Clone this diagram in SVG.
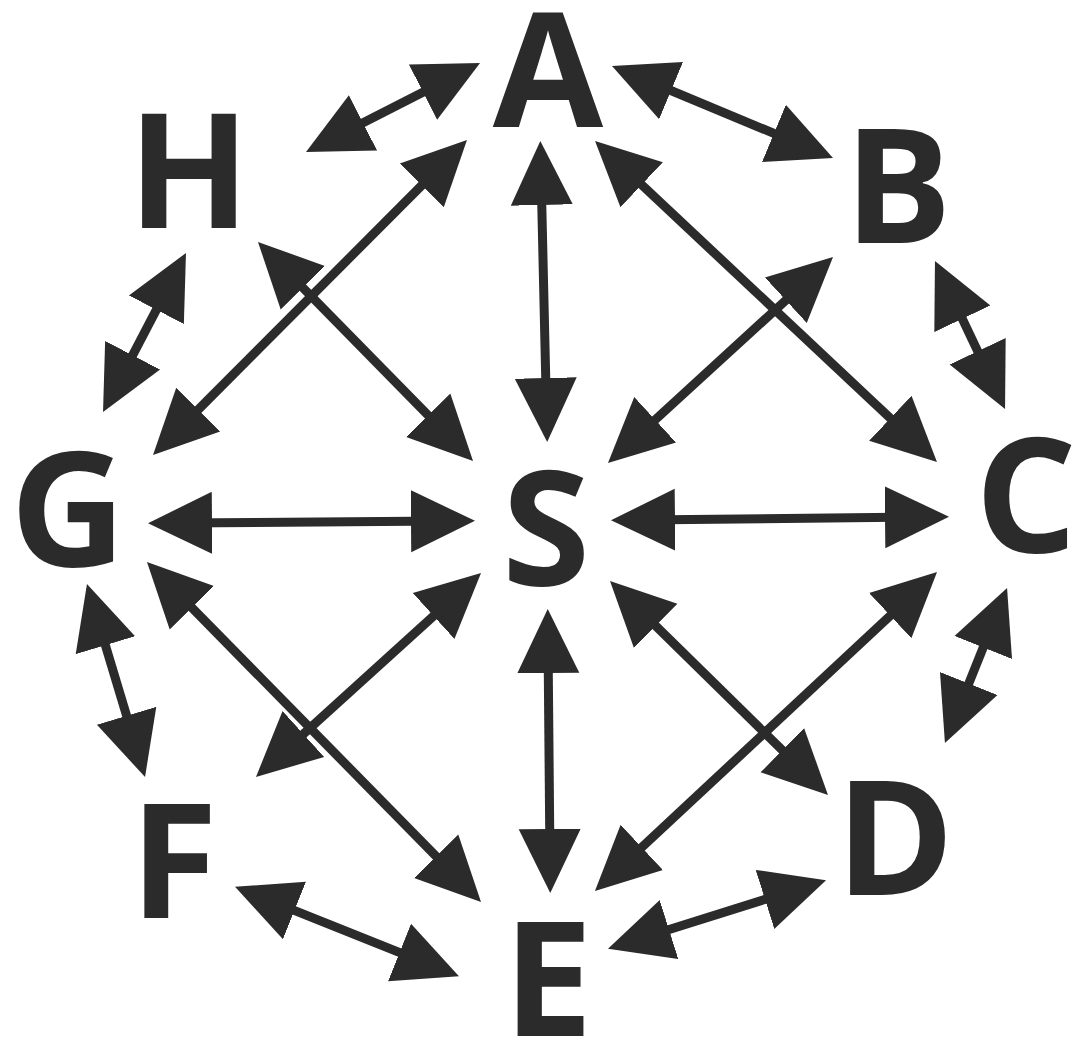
<svg xmlns="http://www.w3.org/2000/svg" width="1075" height="1039" viewBox="0 0 1075 1039">
<style>
.n text{font-family:"Open Sans","Noto Sans","DejaVu Sans",sans-serif;font-weight:700;font-size:160px;fill:#2b2b2b;text-anchor:middle}
.e line{stroke:#2b2b2b;stroke-width:9;marker-start:url(#h);marker-end:url(#h)}
</style>
<defs>
<marker id="h" markerUnits="userSpaceOnUse" viewBox="0 0 64 64" markerWidth="64" markerHeight="64" refX="34" refY="32" orient="auto-start-reverse">
<path d="M0,1 L64,32 L0,63 z" fill="#2b2b2b"/>
</marker>
</defs>
<rect width="1075" height="1039" fill="#fff"/>
<g class="e" id="connectors">
<line x1="332.7" y1="138.3" x2="453.3" y2="76.7"/>
<line x1="639.7" y1="77.5" x2="805.3" y2="146.5"/>
<line x1="947.8" y1="288.1" x2="992.2" y2="381.9"/>
<line x1="995.9" y1="615.9" x2="956.1" y2="715.1"/>
<line x1="797.4" y1="889.2" x2="636.6" y2="939.8"/>
<line x1="262.9" y1="897.9" x2="431.1" y2="965.1"/>
<line x1="95.6" y1="612.7" x2="136.4" y2="748.3"/>
<line x1="172.1" y1="279.6" x2="116.9" y2="385.4"/>
<line x1="541" y1="171" x2="546.5" y2="412"/>
<line x1="548" y1="639" x2="550" y2="863"/>
<line x1="178" y1="523" x2="445" y2="521"/>
<line x1="641" y1="520" x2="919" y2="517"/>
<line x1="616.9" y1="161.5" x2="915.1" y2="441.5"/>
<line x1="279" y1="263.4" x2="452" y2="439.6"/>
<line x1="810.9" y1="277.3" x2="630.1" y2="442.7"/>
<line x1="174.2" y1="433.8" x2="445.8" y2="161.2"/>
<line x1="168" y1="583.4" x2="460" y2="880.6"/>
<line x1="278.2" y1="756.8" x2="458.8" y2="593.2"/>
<line x1="631.4" y1="602" x2="806.6" y2="774"/>
<line x1="915.1" y1="592.5" x2="616.9" y2="870.5"/>
</g>
<g class="n" id="A"><text x="548" y="127">A</text></g>
<g class="n" id="B"><text x="898" y="243">B</text></g>
<g class="n" id="C"><text x="1026" y="552">C</text></g>
<g class="n" id="D"><text x="895" y="895">D</text></g>
<g class="n" id="E"><text x="548" y="1036">E</text></g>
<g class="n" id="F"><text x="174" y="918">F</text></g>
<g class="n" id="G"><text x="68" y="566">G</text></g>
<g class="n" id="H"><text x="189" y="228">H</text></g>
<g class="n" id="S"><text x="546" y="585">S</text></g>
</svg>
